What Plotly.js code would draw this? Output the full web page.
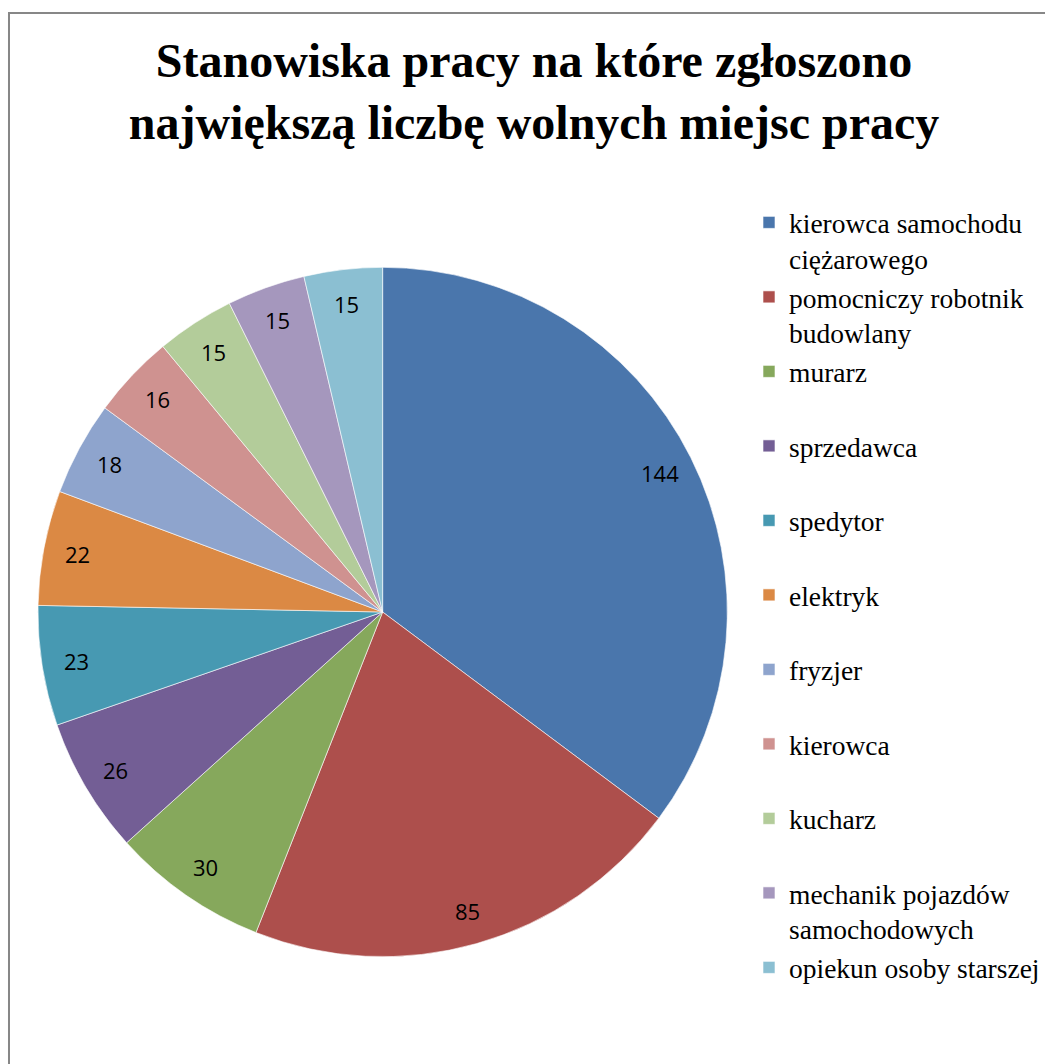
<!DOCTYPE html>
<html>
<head>
<meta charset="utf-8">
<script src="https://cdn.plot.ly/plotly-3.0.1.min.js"></script>
<style>
  html, body { margin: 0; padding: 0; background: #fff; }
  #chart { width: 1045px; height: 1064px; }
</style>
</head>
<body>
<div id="chart"></div>
<script>
const categories = [
  "kierowca samochodu<br>ciężarowego",
  "pomocniczy robotnik<br>budowlany",
  "murarz",
  "sprzedawca",
  "spedytor",
  "elektryk",
  "fryzjer",
  "kierowca",
  "kucharz",
  "mechanik pojazdów<br>samochodowych",
  "opiekun osoby starszej"
]
const values = [144, 85, 30, 26, 23, 22, 18, 16, 15, 15, 15]
const colors = [
  "#4A76AC", "#AD4F4C", "#86A85C", "#735E95", "#4799B2", "#DB8944",
  "#8EA4CD", "#CF9290", "#B3CC9A", "#A597BD", "#8BBFD2"
]

const W = 1045, H = 1064
// pie geometry in px
const cx = 383, cy = 612, R = 345

// every legend entry takes two lines, like the original
const legendLabels = categories.map(c => c.includes("<br>") ? c : c + "<br>\u00a0")

// value labels sit at 0.9 R on each slice's mid angle (clockwise from 12 o'clock)
const total = values.reduce((s, v) => s + v, 0)
let cum = 0
const labelAnnotations = values.map(v => {
  const theta = (cum + v / 2) / total * 2 * Math.PI
  cum += v
  const px = cx + 0.9 * R * Math.sin(theta)
  const py = cy - 0.9 * R * Math.cos(theta)
  return {
    x: px / W, y: 1 - py / H, xref: "paper", yref: "paper",
    text: String(v), showarrow: false,
    xanchor: "center", yanchor: "middle",
    font: {family: "Open Sans, sans-serif", size: 22, color: "#000"}
  }
})

const serif = "Liberation Serif"

const data = [{
  type: "pie",
  labels: legendLabels,
  values: values,
  sort: false,
  direction: "clockwise",
  rotation: 0,
  textinfo: "none",
  hoverinfo: "label+value",
  marker: {colors: colors, line: {color: "#ffffff", width: 0.6}},
  domain: {
    x: [(cx - R) / W, (cx + R) / W],
    y: [(H - cy - R) / H, (H - cy + R) / H]
  }
}]

const layout = {
  width: W, height: H,
  margin: {l: 0, r: 0, t: 0, b: 0},
  paper_bgcolor: "#ffffff",
  font: {family: serif, color: "#000"},
  title: {
    text: "<b>Stanowiska pracy na które zgłoszono<br>największą liczbę wolnych miejsc pracy</b>",
    font: {family: serif, size: 48, color: "#000"},
    x: 534 / W, xanchor: "center",
    y: 1 - 77 / H, yanchor: "top", yref: "container"
  },
  showlegend: true,
  legend: {
    x: 750 / W, xanchor: "left",
    y: 1 - 198 / H, yanchor: "top",
    valign: "top",
    font: {family: serif, size: 27.5, color: "#000"},
    bgcolor: "rgba(0,0,0,0)",
    tracegroupgap: 0
  },
  annotations: labelAnnotations,
  shapes: [{
    type: "rect", xref: "paper", yref: "paper",
    x0: 9 / W, x1: 1.05, y0: -0.05, y1: 1 - 13 / H,
    line: {color: "#878787", width: 2}, fillcolor: "rgba(0,0,0,0)", layer: "below"
  }]
}

Plotly.newPlot("chart", data, layout, {displayModeBar: false, staticPlot: true})
</script>
</body>
</html>
